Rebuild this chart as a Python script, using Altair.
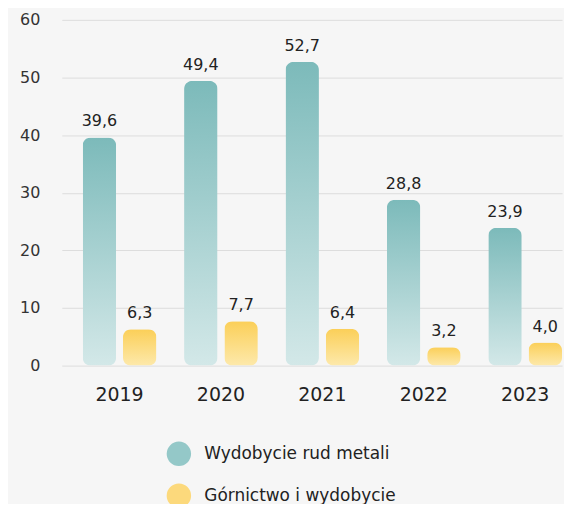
import altair as alt
import pandas as pd

years = ["2019", "2020", "2021", "2022", "2023"]
metal_ores = [39.6, 49.4, 52.7, 28.8, 23.9]
mining = [6.3, 7.7, 6.4, 3.2, 4.0]
series = ["Wydobycie rud metali", "Górnictwo i wydobycie"]
y_ticks = [0, 10, 20, 30, 40, 50, 60]

rows = []
for y, a, b in zip(years, metal_ores, mining):
    rows.append({"year": y, "series": series[0], "value": a})
    rows.append({"year": y, "series": series[1], "value": b})
df = pd.DataFrame(rows)

FONT = "DejaVu Sans"

x_enc = alt.X(
    "year:N",
    scale=alt.Scale(domain=years, paddingInner=0.273, paddingOuter=0.103, align=1),
    axis=alt.Axis(title=None, labelAngle=0, labelFontSize=19, labelColor="#222222",
                  labelFont=FONT, labelPadding=20, domain=False, ticks=False),
)
xo_enc = alt.XOffset("series:N", scale=alt.Scale(domain=series, paddingInner=0.17, paddingOuter=0))

base = alt.Chart(df).encode(x=x_enc, xOffset=xo_enc)

y_axis = alt.Axis(title=None, values=y_ticks, labelFontSize=16, labelColor="#333333",
                  labelFont=FONT, labelPadding=22, domain=False, ticks=False,
                  gridColor="#dddddd", gridWidth=1)
y_scale = alt.Scale(domain=[0, 60], nice=False)
y_main = alt.Y("value:Q", scale=y_scale, axis=y_axis)

teal_grad = alt.Gradient(
    gradient="linear",
    stops=[alt.GradientStop(color="#7cbaba", offset=0), alt.GradientStop(color="#d3e8e8", offset=1)],
    x1=0, x2=0, y1=0, y2=1,
)
yellow_grad = alt.Gradient(
    gradient="linear",
    stops=[alt.GradientStop(color="#fbcf58", offset=0), alt.GradientStop(color="#fde9ab", offset=1)],
    x1=0, x2=0, y1=0, y2=1,
)

bars_metal = base.transform_filter(alt.datum.series == series[0]).mark_bar(
    cornerRadius=8, color=teal_grad
).encode(y=y_main)

bars_mining = base.transform_filter(alt.datum.series == series[1]).mark_bar(
    cornerRadius=8, color=yellow_grad
).encode(y=y_main)

legend_layer = base.transform_calculate(zero="0").mark_bar(strokeWidth=0).encode(
    y=alt.Y("zero:Q", scale=y_scale, axis=y_axis),
    color=alt.Color(
        "series:N",
        scale=alt.Scale(domain=series, range=["#94c8c8", "#fcd97c"]),
        legend=alt.Legend(
            title=None, orient="none", legendX=105, legendY=423, symbolType="circle",
            symbolSize=600, symbolStrokeWidth=0, symbolOpacity=1, labelFontSize=17,
            labelFont=FONT, labelColor="#222222", labelOffset=13,
            rowPadding=17, direction="vertical", labelLimit=400,
        ),
    ),
)

labels = base.transform_calculate(
    label="replace(format(datum.value, '.1f'), '.', ',')"
).mark_text(baseline="bottom", dy=-8, fontSize=16, font=FONT,
            color="#222222").encode(
    y=y_main, text="label:N"
)

chart = alt.layer(bars_metal, bars_mining, legend_layer, labels).properties(
    width=502, height=347,
    background="#f6f6f6",
    autosize=alt.AutoSizeParams(type="none"),
    padding={"left": 54, "top": 11, "right": 2, "bottom": 138},
).configure_view(stroke=None)

chart.save("out.html", embed_options={"renderer": "svg", "actions": False})
